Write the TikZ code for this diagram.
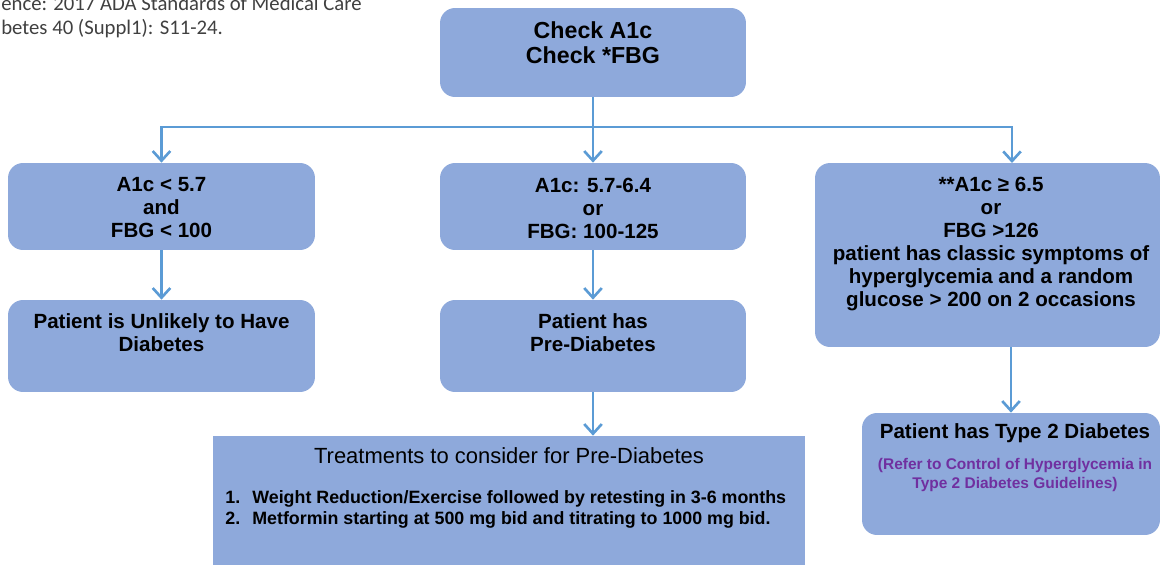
\documentclass[tikz,border=0pt]{standalone}
\usepackage{fontspec}
\setmainfont{Liberation Sans}
\newfontfamily\reffont{Carlito}
\usetikzlibrary{arrows.meta,positioning}
\definecolor{boxblue}{RGB}{142,169,219}
\definecolor{linkblue}{RGB}{91,155,213}
\definecolor{notepurple}{RGB}{112,48,160}
\definecolor{refgray}{RGB}{64,64,64}

\begin{document}
\begin{tikzpicture}[x=0.02cm,y=-0.02cm,
    box/.style={fill=boxblue, rounded corners=0.3cm, inner sep=0pt},
    txt/.style={align=center, inner sep=0pt, font=\fontsize{11.7}{13.1}\selectfont\bfseries},
    link/.style={draw=linkblue, line width=1.5pt, -{Straight Barb[length=5.5pt,width=10pt]}}]
    \useasboundingbox (0,0) rectangle (1160,565);

      \node[anchor=south west, align=left, inner sep=0pt, text=refgray,
        font=\reffont\fontsize{11.8}{13.7}\selectfont] (ref) at (1,38)
        {ence: 2017 ADA Standards of Medical Care\\betes 40 (Suppl1): S11-24.};

      \node[box, minimum width=6.12cm, minimum height=1.78cm] (chk) at (593,52.5) {};
      \node[txt, font=\fontsize{13.2}{14.2}\selectfont\bfseries] (chkt) at (593,42.5) {Check A1c\\Check *FBG};

      \node[box, minimum width=6.14cm, minimum height=1.74cm] (low1) at (161.5,206.5) {};
      \node[txt] (low1t) at (161.5,208) {A1c < 5.7\\and\\FBG < 100};

      \node[box, minimum width=6.12cm, minimum height=1.74cm] (mid1) at (593,206.5) {};
      \node[txt] (mid1t) at (593,208) {A1c: 5.7-6.4\\or\\FBG: 100-125};

      \node[box, minimum width=6.9cm, minimum height=3.68cm] (high1) at (987.5,255) {};
      \node[txt] (high1t) at (991,244) {**A1c ≥ 6.5\\or\\FBG >126\\patient has classic symptoms of\\hyperglycemia and a random\\glucose > 200 on 2 occasions};

      \node[box, minimum width=6.14cm, minimum height=1.84cm] (low2) at (161.5,346) {};
      \node[txt] (low2t) at (161.5,332.5) {Patient is Unlikely to Have\\Diabetes};

      \node[box, minimum width=6.12cm, minimum height=1.84cm] (mid2) at (593,346) {};
      \node[txt] (mid2t) at (593,332.5) {Patient has\\Pre-Diabetes};

      \node[box, rounded corners=0pt, minimum width=11.84cm, minimum height=2.58cm] (treat) at (509,500.5) {};
      \node[txt, font=\fontsize{12.5}{14}\selectfont] (treatt) at (509,456) {Treatments to consider for Pre-Diabetes};
      \node[txt, align=left, anchor=west, font=\fontsize{10.15}{12}\selectfont\bfseries] (treatl) at (225,509.5)
        {\makebox[0.54cm][l]{1.}Weight Reduction/Exercise followed by retesting in 3-6 months\\
         \makebox[0.54cm][l]{2.}Metformin starting at 500 mg bid and titrating to 1000 mg bid.};

      \node[box, minimum width=5.96cm, minimum height=2.44cm] (high2) at (1011,474) {};
      \node[txt] (high2t) at (1015,433) {Patient has Type 2 Diabetes};
      \node[txt, text=notepurple, font=\fontsize{8.8}{10.4}\selectfont\bfseries] (high2n) at (1015,475)
        {(Refer to Control of Hyperglycemia in\\Type 2 Diabetes Guidelines)};

      \coordinate (split) at (593,127);
      \coordinate (highin) at (1012,163);
      \draw[link] (chk) -- (mid1);
      \draw[link] (split) -| (low1);
      \draw[link] (split) -| (highin);
      \draw[link] (low1) -- (low2);
      \draw[link] (mid1) -- (mid2);
      \draw[link] (mid2) -- (mid2 |- treat.north);
      \draw[link] (high2.north |- high1.south) -- (high2);
  \end{tikzpicture}
\end{document}
